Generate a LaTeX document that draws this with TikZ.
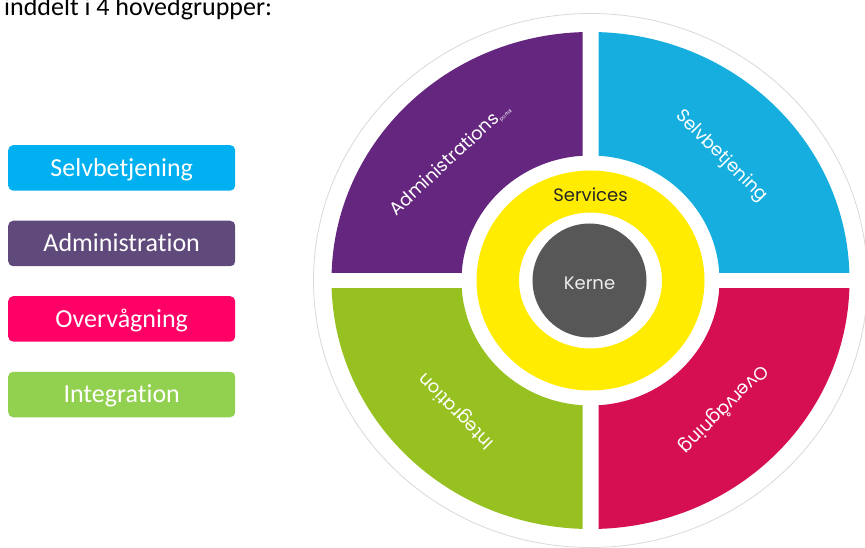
\documentclass[tikz,border=0pt]{standalone}
\usepackage{fontspec}
\setmainfont[Ligatures=NoCommon]{Carlito}
\newfontfamily\geofont{Poppins}

\definecolor{selvblue}{HTML}{00B0F0}
\definecolor{admpurple}{HTML}{604A7B}
\definecolor{ovpink}{HTML}{FF0066}
\definecolor{intgreen}{HTML}{92D050}
\definecolor{qpurple}{HTML}{65267F}
\definecolor{qblue}{HTML}{15AEDF}
\definecolor{qred}{HTML}{D60F52}
\definecolor{qgreen}{HTML}{96C121}
\definecolor{qyellow}{HTML}{FFEC00}
\definecolor{kernegray}{HTML}{575757}

\tikzset{
  catbox/.style={rounded corners=5pt, minimum width=227pt, minimum height=45.5pt,
    inner sep=0pt, text=white, font=\fontsize{26}{26}\selectfont,
    text height=16.7pt, text depth=0pt},
  ringlabel/.style={inner sep=0pt, text=white, font=\geofont\fontsize{18}{18}\selectfont,
    text height=12.6pt, text depth=0pt}
}

\begin{document}
\begin{tikzpicture}[x=1pt,y=1pt]
  \useasboundingbox[fill=white] (0,0) rectangle (865,547);
  \node[anchor=base west, inner sep=0pt, font=\fontsize{26}{26}\selectfont] (intro) at (4,531) {inddelt i 4 hovedgrupper:};

  \node[catbox, fill=selvblue] (selv) at (121.7,379.1) {Selvbetjening};
  \node[catbox, fill=admpurple] (adm) at (121.7,303.5) {Administration};
  \node[catbox, fill=ovpink] (over) at (121.7,228.1) {Overvågning};
  \node[catbox, fill=intgreen] (integ) at (121.7,152.5) {Integration};

  \begin{scope}[shift={(590.5,266.5)}]
    \draw[black!15, line width=0.8pt] (0,0) ellipse (277 and 267);

    \begin{scope}
      \clip (-8,8) rectangle (-300,300);
      \fill[qpurple, even odd rule] (0,0) ellipse (259 and 248.5) (0,0) ellipse (129 and 125);
    \end{scope}
    \begin{scope}
      \clip (8,8) rectangle (300,300);
      \fill[qblue, even odd rule] (0,0) ellipse (259 and 248.5) (0,0) ellipse (129 and 125);
    \end{scope}
    \begin{scope}
      \clip (8,-8) rectangle (300,-300);
      \fill[qred, even odd rule] (0,0) ellipse (259 and 248.5) (0,0) ellipse (129 and 125);
    \end{scope}
    \begin{scope}
      \clip (-8,-8) rectangle (-300,-300);
      \fill[qgreen, even odd rule] (0,0) ellipse (259 and 248.5) (0,0) ellipse (129 and 125);
    \end{scope}

    \fill[qyellow, even odd rule] (0,0) ellipse (114 and 110) (0,0) ellipse (71.5 and 68);
    \fill[kernegray] (-1,0) ellipse (57 and 57);

    \node[ringlabel, text=black!85] (services) at (0,85.5) {Services};
    \node[ringlabel, text=black!7] (kerne) at (-1,-3) {Kerne};

    \node[ringlabel, rotate=43] (admq) at (-141,122) {Administrations\raisebox{-2pt}{\fontsize{5}{5}\selectfont portal}};
    \node[ringlabel, rotate=-45] (selvq) at (132,125.5) {Selvbetjening};
    \node[ringlabel, rotate=225] (overq) at (134,-129.5) {Overvågning};
    \node[ringlabel, rotate=135] (integq) at (-135,-131.5) {Integration};
  \end{scope}
\end{tikzpicture}
\end{document}
